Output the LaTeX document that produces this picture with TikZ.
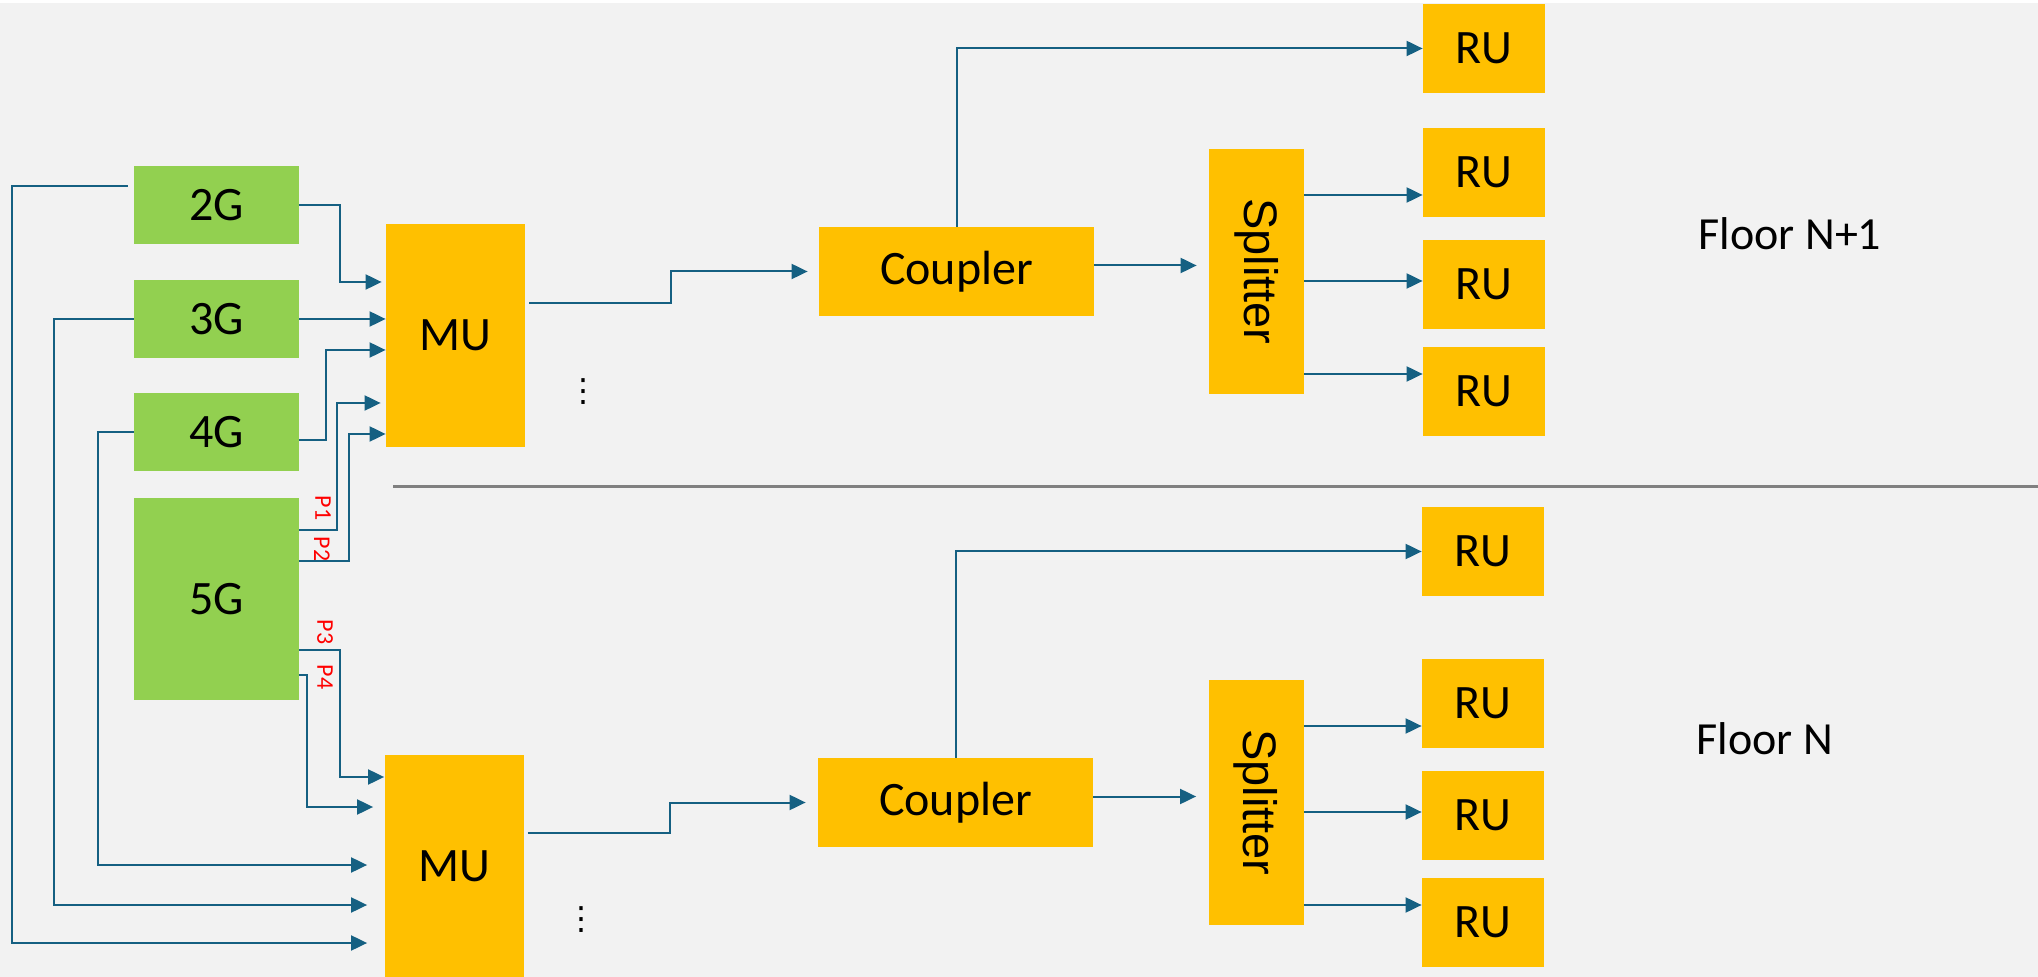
\documentclass[tikz,border=0pt]{standalone}
\usepackage{fontspec}
\setmainfont{Carlito}
\newfontfamily\arialfont{Liberation Sans}
\newfontfamily\dotsfont{DejaVu Sans}
\usetikzlibrary{arrows.meta,positioning}

\definecolor{bggray}{HTML}{F2F2F2}
\definecolor{radiogreen}{HTML}{92D050}
\definecolor{unitgold}{HTML}{FFC000}
\definecolor{linkteal}{HTML}{156082}
\definecolor{floorgray}{HTML}{808080}

\begin{document}
\begin{tikzpicture}[x=0.5pt, y=-0.5pt,
  every node/.style={align=center, inner sep=0pt, font=\fontsize{24}{28}\selectfont},
  radio/.style={fill=radiogreen, minimum width=82.5pt, minimum height=39pt},
  unit/.style={fill=unitgold},
  mu/.style={unit, minimum width=69.5pt, minimum height=111.5pt},
  coupler/.style={unit, minimum width=137.5pt, minimum height=44.5pt},
  splitter/.style={unit, minimum width=47.5pt, minimum height=122.5pt},
  ru/.style={unit, minimum width=61pt, minimum height=44.5pt},
  port/.style={text=red, rotate=-90, font=\fontsize{12}{14}\selectfont},
  floor/.style={font=\fontsize{23}{27}\selectfont},
  more/.style={font=\dotsfont\fontsize{16}{18}\selectfont},
  link/.style={draw=linkteal, line width=1pt, -{Triangle[length=8pt,width=7.5pt]}}]

% background
\fill[white] (0,0) rectangle (2038,977);
\fill[bggray] (0,3) rectangle (2038,977);
\useasboundingbox (0,0) rectangle (2038,977);

% floor divider
\draw[floorgray, line width=1.5pt] (393,486.5) -- (2038,486.5);

% radios
\node (g2) [radio] at (216.5,205) {2G};
\node (g3) [radio] at (216.5,319) {3G};
\node (g4) [radio] at (216.5,432) {4G};
\node (g5) [radio, minimum height=101pt] at (216.5,599) {5G};

% floor N+1
\node (muA) [mu] at (455.5,335.5) {MU};
\node (coupA) [coupler] at (956.5,271.5) {Coupler};
\node (splA) [splitter] at (1256.5,271.5) {\rotatebox{-90}{\arialfont\fontsize{23.5}{28}\selectfont Splitter}};
\node (dotsA) [more] at (583,392) {⋮};
\node (floorA) [floor] at (1790,234) {Floor N+1};

% floor N
\node (muB) [mu] at (454,866.5) {MU};
\node (coupB) [coupler] at (955.5,802.5) {Coupler};
\node (splB) [splitter] at (1256,802.5) {\rotatebox{-90}{\arialfont\fontsize{23.5}{28}\selectfont Splitter}};
\node (dotsB) [more] at (581,920) {⋮};
\node (floorB) [floor] at (1765,739) {Floor N};

% remote units
\foreach \n/\x/\y in {A0/1484/48.5, A1/1484/172.5, A2/1484/284.5, A3/1484/391.5,
                      B0/1483/551.5, B1/1483/703.5, B2/1483/815.5, B3/1483/922.5}
  \node (ru\n) [ru] at (\x,\y) {RU};

% 5G ports
\node (p1) [port] at (323,508) {P1};
\node (p2) [port] at (322,549) {P2};
\node (p3) [port] at (325,632) {P3};
\node (p4) [port] at (325,677) {P4};

% feeds into MU of floor N+1
\draw[link] (g2.east) -- ++(41,0) |- ([xshift=-2pt,yshift=26.75pt]muA.west);
\draw[link] (g3.east) -- (g3.east -| muA.west);
\draw[link] ([yshift=-4pt]g4.east) -- ++(27,0) |- ([yshift=-7.25pt]muA.west);
\draw[link] ([yshift=34.5pt]g5.east) -- ++(38,0) |- ([xshift=-2.5pt,yshift=-33.75pt]muA.west);
\draw[link] ([yshift=19pt]g5.east) -- ++(50,0) |- ([yshift=-49.25pt]muA.west);

% feeds into MU of floor N
\draw[link] ([yshift=-25.5pt]g5.east) -- ++(41,0) |- ([yshift=44.75pt]muB.west);
\draw[link] ([yshift=-38pt]g5.east) -- ++(8,0) |- ([xshift=-5.5pt,yshift=29.75pt]muB.west);
\draw[link] (g4.west) -- ++(-36,0) |- ([xshift=-8.5pt,yshift=0.75pt]muB.west);
\draw[link] (g3.west) -- ++(-80,0) |- ([xshift=-8.5pt,yshift=-19.25pt]muB.west);
\draw[link] ([xshift=-3pt,yshift=9.5pt]g2.west) -- ++(-115.5,0) |- ([xshift=-8.5pt,yshift=-38.25pt]muB.west);

% MU -> coupler -> splitter -> RU
\draw[link] ([xshift=2pt,yshift=16.25pt]muA.east) -- ++(142,0) |- ([xshift=-5.5pt]coupA.west);
\draw[link] ([xshift=2pt,yshift=16.75pt]muB.east) -- ++(142,0) |- ([xshift=-6pt]coupB.west);
\foreach \f in {A,B} {
  \draw[link] (coup\f.north) |- (ru\f0.west);
  \draw[link] ([yshift=3pt]coup\f.east) -- ([xshift=-6pt,yshift=3pt]spl\f.west);
  \draw[link] ([yshift=38.25pt]spl\f.east) -- ([yshift=-11.25pt]ru\f1.west);
  \draw[link] ([yshift=-4.75pt]spl\f.east) -- ([yshift=1.75pt]ru\f2.west);
  \draw[link] ([yshift=-51.25pt]spl\f.east) -- ([yshift=8.75pt]ru\f3.west);
}
\end{tikzpicture}
\end{document}
